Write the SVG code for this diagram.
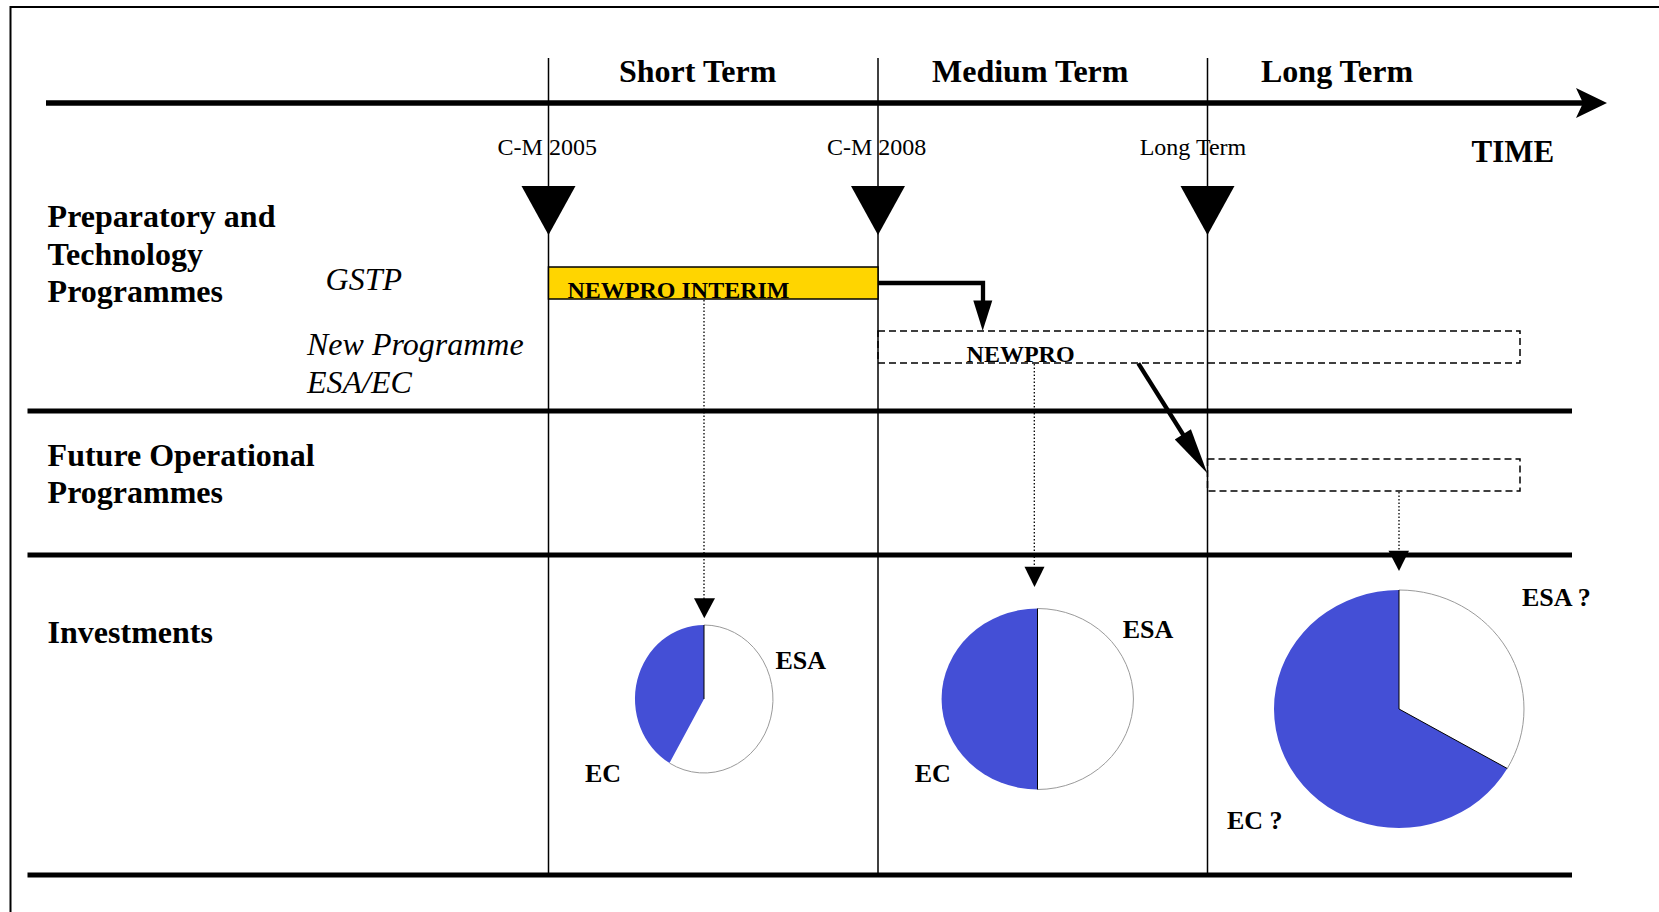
<svg xmlns="http://www.w3.org/2000/svg" width="1659" height="912" viewBox="0 0 1659 912">
<style>
  .hdr { font-family: "Liberation Serif", "Times New Roman", serif; font-weight: bold; font-size: 32px; fill: #000; }
  .lbl { font-family: "Liberation Serif", "Times New Roman", serif; font-weight: bold; font-size: 32px; fill: #000; }
  .ital { font-family: "Liberation Serif", "Times New Roman", serif; font-style: italic; font-size: 32px; fill: #000; }
  .mile { font-family: "Liberation Serif", "Times New Roman", serif; font-size: 24px; fill: #000; }
  .bar { font-family: "Liberation Serif", "Times New Roman", serif; font-weight: bold; font-size: 24px; fill: #000; }
  .pie { font-family: "Liberation Serif", "Times New Roman", serif; font-weight: bold; font-size: 26px; fill: #000; }
  .vline { stroke: #000; stroke-width: 1.5; fill: none; }
  .rowline { stroke: #000; stroke-width: 5; fill: none; }
  .dash { stroke: #000; stroke-width: 1.5; fill: none; stroke-dasharray: 7 4; }
  .dot { stroke: #000; stroke-width: 1.3; fill: none; stroke-dasharray: 1.5 2; }
  .thick { stroke: #000; stroke-width: 4.3; fill: none; stroke-linejoin: miter; }
  .blue { fill: #444FD6; stroke: none; }
  .arc { fill: none; stroke: #9a9a9a; stroke-width: 1; }
  .div { stroke: #000; stroke-width: 1; fill: none; }
</style>
<rect x="0" y="0" width="1659" height="912" fill="#fff"/>
<path d="M10.5 912 V7 H1659" fill="none" stroke="#000" stroke-width="2"/>

<g id="timeline">
  <line x1="46" y1="103" x2="1586" y2="103" stroke="#000" stroke-width="5.5"/>
  <polygon points="1607,103 1576,88 1583,103 1576,118" fill="#000"/>
  <text class="hdr" x="619" y="81.7">Short Term</text>
  <text class="hdr" x="932" y="81.7">Medium Term</text>
  <text class="hdr" x="1261" y="81.7">Long Term</text>
  <text class="hdr" x="1471.6" y="161.7" style="font-size:31px">TIME</text>
</g>

<g id="grid">
  <line class="vline" x1="548.5" y1="58" x2="548.5" y2="875"/>
  <line class="vline" x1="878" y1="58" x2="878" y2="875"/>
  <line class="vline" x1="1207.5" y1="58" x2="1207.5" y2="875"/>
  <line class="rowline" x1="27.5" y1="411" x2="1572" y2="411"/>
  <line class="rowline" x1="27.5" y1="555" x2="1572" y2="555"/>
  <line class="rowline" x1="27.5" y1="875" x2="1572" y2="875"/>
</g>

<g id="milestone-cm2005">
  <text class="mile" x="497.6" y="155">C-M 2005</text>
  <polygon points="521.5,186 575.5,186 548.5,235" fill="#000"/>
</g>
<g id="milestone-cm2008">
  <text class="mile" x="827" y="155">C-M 2008</text>
  <polygon points="851,186 905,186 878,235" fill="#000"/>
</g>
<g id="milestone-long">
  <text class="mile" x="1139.7" y="155">Long Term</text>
  <polygon points="1180.5,186 1234.5,186 1207.5,235" fill="#000"/>
</g>

<g id="row-labels">
  <text class="lbl" x="47.6" y="226.7">Preparatory and</text>
  <text class="lbl" x="47.6" y="265">Technology</text>
  <text class="lbl" x="47.6" y="302.3">Programmes</text>
  <text class="ital" x="325.6" y="290">GSTP</text>
  <text class="ital" x="307" y="355">New Programme</text>
  <text class="ital" x="307" y="392.7">ESA/EC</text>
  <text class="lbl" x="47.6" y="465.7">Future Operational</text>
  <text class="lbl" x="47.6" y="503.3">Programmes</text>
  <text class="lbl" x="47.6" y="642.7">Investments</text>
</g>

<g id="newpro-interim">
  <rect x="548.5" y="267" width="329.5" height="32" fill="#FFD500" stroke="#000" stroke-width="1.5"/>
  <text class="bar" x="567.5" y="298">NEWPRO INTERIM</text>
</g>

<g id="newpro">
  <rect class="dash" x="878" y="331" width="642" height="32"/>
  <text class="bar" x="966.6" y="362">NEWPRO</text>
</g>

<g id="future-op">
  <rect class="dash" x="1207.5" y="459" width="312.5" height="32"/>
</g>

<g id="connectors">
  <path class="thick" d="M878 283 H983 V302"/>
  <polygon points="973.3,300.5 992.3,300.5 982.7,330.7" fill="#000"/>
  <line class="thick" x1="1138.3" y1="363.3" x2="1184" y2="436"/>
  <polygon points="1207.3,473.3 1174.8,439.4 1190.9,429.3" fill="#000"/>
  <line class="dot" x1="704" y1="300" x2="704" y2="599"/>
  <polygon points="694,598.3 715,598.3 704.3,618.3" fill="#000"/>
  <line class="dot" x1="1034.3" y1="364" x2="1034.3" y2="567"/>
  <polygon points="1024.5,566.7 1044.5,566.7 1034.5,587" fill="#000"/>
  <line class="dot" x1="1399" y1="492" x2="1399" y2="551"/>
  <polygon points="1388.5,550.7 1409,550.7 1399,571" fill="#000"/>
</g>

<g id="pie-short">
  <ellipse cx="704" cy="699" rx="69" ry="74" fill="#fff"/>
  <path class="blue" d="M704 699 L704 625 A69 74 0 0 0 669.5 763.1 Z"/>
  <path class="arc" d="M669.5 763.1 A69 74 0 1 0 704 625"/>
  <line class="div" x1="704" y1="625" x2="704" y2="699"/>
  <text class="pie" x="775.5" y="669">ESA</text>
  <text class="pie" x="585" y="781.5">EC</text>
</g>

<g id="pie-medium">
  <ellipse cx="1037.5" cy="699" rx="96" ry="90.5" fill="#fff"/>
  <path class="blue" d="M1037.5 608.5 A96 90.5 0 0 0 1037.5 789.5 Z"/>
  <path class="arc" d="M1037.5 608.5 A96 90.5 0 0 1 1037.5 789.5"/>
  <line class="div" x1="1037.5" y1="608.5" x2="1037.5" y2="789.5"/>
  <text class="pie" x="1122.7" y="638">ESA</text>
  <text class="pie" x="914.7" y="781.5">EC</text>
</g>

<g id="pie-long">
  <ellipse cx="1399" cy="709" rx="125" ry="119" fill="#fff"/>
  <path class="blue" d="M1399 709 L1399 590 A125 119 0 1 0 1507.25 768.5 Z"/>
  <path class="arc" d="M1399 590 A125 119 0 0 1 1507.25 768.5"/>
  <path class="div" d="M1399 590 L1399 709 L1507.25 768.5"/>
  <text class="pie" x="1522" y="606">ESA ?</text>
  <text class="pie" x="1227" y="829">EC ?</text>
</g>
</svg>
